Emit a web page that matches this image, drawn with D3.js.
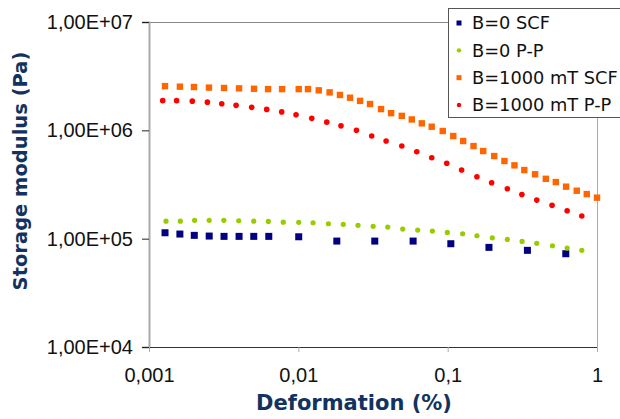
<!DOCTYPE html>
<html>
<head>
<meta charset="utf-8">
<script src="https://cdn.jsdelivr.net/npm/d3@7"></script>
<style>
  body { margin: 0; background: #fff; }
  svg { display: block; font-family: "DejaVu Sans", Verdana, sans-serif; }
</style>
</head>
<body>
<svg width="620" height="419"></svg>
<script>
// series data
const scfX = [0.00128, 0.00161, 0.00201, 0.00253, 0.00318, 0.00401, 0.00503, 0.00634, 0.01006, 0.0181, 0.0325, 0.0587, 0.105, 0.189, 0.342, 0.618];
const scf0Y = [1.134e5, 1.103e5, 1.073e5, 1.057e5, 1.05e5, 1.05e5, 1.05e5, 1.05e5, 1.041e5, 9.5e4, 9.5e4, 9.5e4, 8.98e4, 8.31e4, 7.8e4, 7.26e4];

const ppX = [0.0013, 0.00162, 0.00202, 0.00253, 0.00317, 0.00399, 0.00503, 0.0063, 0.00793, 0.01006, 0.01255, 0.0159, 0.02, 0.0251, 0.0317, 0.0397, 0.05, 0.063, 0.079, 0.0995, 0.126, 0.157, 0.199, 0.251, 0.315, 0.395, 0.503, 0.631, 0.791];
const pp0Y = [1.45e5, 1.45e5, 1.476e5, 1.476e5, 1.476e5, 1.463e5, 1.45e5, 1.444e5, 1.42e5, 1.414e5, 1.403e5, 1.373e5, 1.356e5, 1.327e5, 1.299e5, 1.28e5, 1.226e5, 1.2e5, 1.175e5, 1.143e5, 1.11e5, 1.064e5, 1.019e5, 9.85e4, 9.44e4, 9.05e4, 8.6e4, 8.19e4, 7.8e4];

const scf1000X = [0.00128, 0.00161, 0.002, 0.00252, 0.00318, 0.00401, 0.00505, 0.00627, 0.00778, 0.01006, 0.0116, 0.0137, 0.0162, 0.019, 0.0222, 0.0259, 0.0302, 0.0358, 0.0418, 0.0493, 0.0575, 0.0671, 0.0782, 0.0927, 0.109, 0.127, 0.149, 0.173, 0.205, 0.24, 0.28, 0.326, 0.385, 0.454, 0.53, 0.621, 0.732, 0.854, 1.0];
const scf1000Y = [2.56e6, 2.53e6, 2.51e6, 2.48e6, 2.46e6, 2.44e6, 2.42e6, 2.4e6, 2.4e6, 2.4e6, 2.4e6, 2.34e6, 2.24e6, 2.12e6, 2.0e6, 1.87e6, 1.75e6, 1.57e6, 1.44e6, 1.36e6, 1.26e6, 1.16e6, 1.08e6, 9.86e5, 8.86e5, 7.97e5, 7.16e5, 6.44e5, 5.79e5, 5.21e5, 4.75e5, 4.3e5, 3.93e5, 3.57e5, 3.33e5, 3.02e5, 2.77e5, 2.58e5, 2.39e5];

const pp1000X = [0.001235, 0.00153, 0.00195, 0.00246, 0.00307, 0.00383, 0.00487, 0.00614, 0.00774, 0.00965, 0.0123, 0.0155, 0.0193, 0.0245, 0.031, 0.0387, 0.0493, 0.0621, 0.0782, 0.0986, 0.124, 0.157, 0.197, 0.251, 0.314, 0.395, 0.5, 0.631, 0.791];
const pp1000Y = [1.88e6, 1.88e6, 1.86e6, 1.82e6, 1.76e6, 1.7e6, 1.63e6, 1.56e6, 1.48e6, 1.39e6, 1.29e6, 1.19e6, 1.1e6, 1.0e6, 8.86e5, 7.97e5, 7.16e5, 6.34e5, 5.58e5, 4.96e5, 4.3e5, 3.73e5, 3.28e5, 2.89e5, 2.55e5, 2.27e5, 2.03e5, 1.81e5, 1.62e5];

const seriesNames = ["B=0 SCF", "B=0 P-P", "B=1000 mT SCF", "B=1000 mT P-P"];
const xTicks = [0.001, 0.01, 0.1, 1];
const xTickLabels = ["0,001", "0,01", "0,1", "1"];
const yTicks = [1e4, 1e5, 1e6, 1e7];
const yTickLabels = ["1,00E+04", "1,00E+05", "1,00E+06", "1,00E+07"];

const series = [
  {name: seriesNames[0], xs: scfX, ys: scf0Y, shape: "square", size: 7, color: "#000080"},
  {name: seriesNames[1], xs: ppX, ys: pp0Y, shape: "circle", size: 5.2, color: "#99cc00"},
  {name: seriesNames[2], xs: scf1000X, ys: scf1000Y, shape: "square", size: 6.4, color: "#ff6600"},
  {name: seriesNames[3], xs: pp1000X, ys: pp1000Y, shape: "circle", size: 5.6, color: "#ff0000"}
];

const svg = d3.select("svg");
const plotLeft = 149, plotRight = 597, plotTop = 22, plotBottom = 347;

const x = d3.scaleLog().domain([0.001, 1]).range([plotLeft, plotRight]);
const y = d3.scaleLog().domain([1e4, 1e7]).range([plotBottom, plotTop]);

// plot frame: top and right grey lines
svg.append("line")
  .attr("x1", plotLeft).attr("x2", plotRight).attr("y1", plotTop + 0.5).attr("y2", plotTop + 0.5)
  .attr("stroke", "#888").attr("stroke-width", 1);
svg.append("line")
  .attr("x1", plotRight + 0.5).attr("x2", plotRight + 0.5).attr("y1", plotTop).attr("y2", plotBottom)
  .attr("stroke", "#aaa").attr("stroke-width", 1);

// y axis
const yAxis = d3.axisLeft(y)
  .tickValues(yTicks)
  .tickSize(7)
  .tickPadding(9)
  .tickFormat((d, i) => yTickLabels[i]);
const gy = svg.append("g")
  .attr("transform", "translate(" + plotLeft + ",0)")
  .call(yAxis);
gy.select(".domain").attr("stroke", "#aaa").attr("stroke-width", 2);
gy.selectAll(".tick line").attr("stroke", "#222");
gy.selectAll(".tick text")
  .attr("fill", "#111")
  .style("font-size", "20px");

// x axis
const xAxis = d3.axisBottom(x)
  .tickValues(xTicks)
  .tickSize(5)
  .tickPadding(16)
  .tickFormat((d, i) => xTickLabels[i]);
const gx = svg.append("g")
  .attr("transform", "translate(0," + plotBottom + ")")
  .call(xAxis);
gx.select(".domain").attr("stroke", "#333").attr("stroke-width", 1);
gx.selectAll(".tick line").attr("stroke", "#aaa");
gx.selectAll(".tick text")
  .attr("fill", "#111")
  .style("font-size", "20px");

// axis titles
svg.append("text")
  .attr("x", 354)
  .attr("y", 410)
  .attr("text-anchor", "middle")
  .attr("fill", "#12325f")
  .style("font-size", "21px")
  .style("font-weight", "bold")
  .text("Deformation (%)");

svg.append("text")
  .attr("transform", "translate(27,171) rotate(-90)")
  .attr("text-anchor", "middle")
  .attr("fill", "#12325f")
  .style("font-size", "19.5px")
  .style("font-weight", "bold")
  .text("Storage modulus (Pa)");

// markers
function drawMarker(sel, s) {
  if (s.shape === "square") {
    sel.append("rect")
      .attr("x", -s.size / 2).attr("y", -s.size / 2)
      .attr("width", s.size).attr("height", s.size)
      .attr("fill", s.color);
  } else {
    sel.append("circle")
      .attr("r", s.size / 2)
      .attr("fill", s.color);
  }
}

series.forEach(s => {
  const pts = s.xs.map((v, i) => ({x: v, y: s.ys[i]}));
  const g = svg.append("g");
  g.selectAll("g")
    .data(pts)
    .enter().append("g")
    .attr("transform", d => "translate(" + x(d.x) + "," + y(d.y) + ")")
    .each(function() { drawMarker(d3.select(this), s); });
});

// legend
const legend = svg.append("g").attr("transform", "translate(448,8)");
legend.append("rect")
  .attr("x", 0.5).attr("y", 0.5)
  .attr("width", 180).attr("height", 109)
  .attr("fill", "#fff")
  .attr("stroke", "#555");

const rowY = d3.scalePoint().domain(seriesNames).range([15, 97]);
series.forEach(s => {
  const row = legend.append("g").attr("transform", "translate(11," + rowY(s.name) + ")");
  drawMarker(row, {shape: s.shape, size: s.shape === "square" ? 5 : 4.4, color: s.color});
  row.append("text")
    .attr("x", 13)
    .attr("dy", "0.36em")
    .attr("fill", "#111")
    .style("font-size", "17.8px")
    .text(s.name);
});
</script>
</body>
</html>
